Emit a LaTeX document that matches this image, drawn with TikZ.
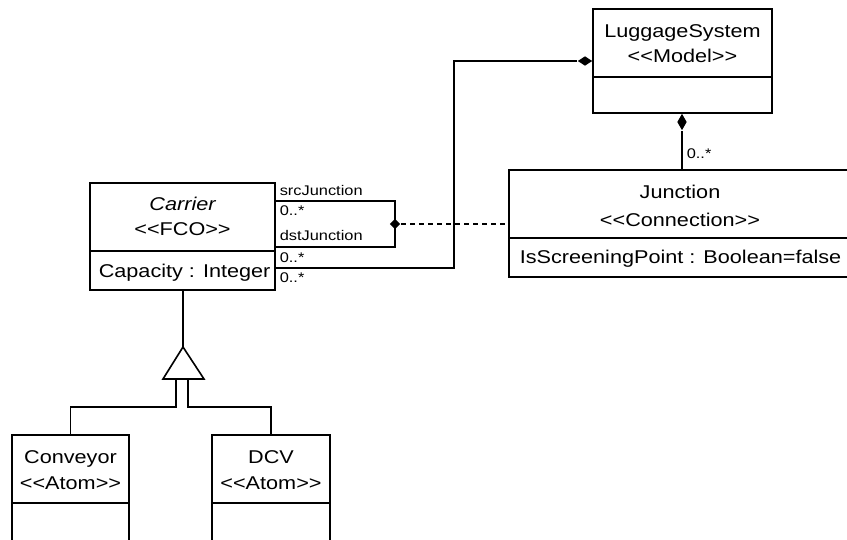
\documentclass[tikz,border=0pt]{standalone}
\usepackage{fontspec}
\setmainfont{Liberation Sans}[FakeStretch=1.17]
\usetikzlibrary{shapes.geometric}
% stereotype brackets, kept apart so they stay two separate glyphs
\newcommand\stereo[1]{<\kern0pt<#1>\kern0pt>}

\begin{document}
\begin{tikzpicture}[x=1pt,y=-1pt,line width=1.6pt,
  box/.style={draw,rectangle,inner sep=0pt,line width=1.6pt},
  txt/.style={font=\fontsize{18.5}{22}\selectfont,inner sep=0pt,anchor=base},
  txtl/.style={txt,anchor=base west},
  lbl/.style={font=\fontsize{14}{16}\selectfont,inner sep=0pt,anchor=base west},
  comp/.style={diamond,fill=black,draw=none,inner sep=0pt}]
\useasboundingbox (0,0) rectangle (847,539);

% class boxes
\node[box,minimum width=179pt,minimum height=104pt] (lug) at (682.5,61) {};
\draw (lug.west |- 0,77) -- (lug.east |- 0,77);
\node[txt] (lugname) at (682.5,37) {LuggageSystem};
\node[txt] (lugst) at (682.5,62) {\stereo{Model}};

\node[box,minimum width=342pt,minimum height=107pt] (junc) at (680,223.5) {};
\draw (junc.west |- 0,238) -- (junc.east |- 0,238);
\node[txt] (juncname) at (680,198) {Junction};
\node[txt] (juncst) at (680,226) {\stereo{Connection}};
\node[txtl] (juncattr) at (519,263) {IsScreeningPoint : Boolean=false};

\node[box,minimum width=185pt,minimum height=107pt] (carrier) at (182.5,236.5) {};
\draw (carrier.west |- 0,251) -- (carrier.east |- 0,251);
\node[txt] (carname) at (182.5,210) {\itshape Carrier};
\node[txt] (carst) at (182.5,235) {\stereo{FCO}};
\node[txtl] (carattr) at (98,277) {Capacity : Integer};

\node[box,minimum width=117pt,minimum height=110pt] (conv) at (70.5,490) {};
\draw (conv.west |- 0,503) -- (conv.east |- 0,503);
\node[txt] (convname) at (70.5,463) {Conveyor};
\node[txt] (convst) at (70.5,489) {\stereo{Atom}};

\node[box,minimum width=118pt,minimum height=110pt] (dcv) at (271,490) {};
\draw (dcv.west |- 0,503) -- (dcv.east |- 0,503);
\node[txt] (dcvname) at (271,463) {DCV};
\node[txt] (dcvst) at (271,489) {\stereo{Atom}};

% composition: LuggageSystem owns Junction
\node[comp,minimum width=10pt,minimum height=17pt] (lugdia) at (682,122) {};
\draw (lugdia.north) -- (lug.south);
\draw (lugdia.south) -- (lugdia.south |- junc.north);
\node[lbl] (lugmult) at (686,158) {0..*};

% composition: LuggageSystem owns Carrier
\node[comp,minimum width=15pt,minimum height=10pt] (cardia) at (585,61) {};
\draw (cardia.east) -- (lug.west |- cardia.east);
\draw (carrier.east |- 0,268) -- (454,268) -- (454,61) -- (cardia.west);

% src / dst association with Junction as connection class
\node[comp,minimum width=11pt,minimum height=11pt] (jdot) at (395,224) {};
\draw (carrier.east |- 0,201) -- (395,201) -- (395,247) -- (carrier.east |- 0,247);
\draw[dashed,line width=1.4pt,dash pattern=on 5pt off 4pt] (jdot) -- (junc.west |- jdot);

\node[lbl] (src) at (279,195) {srcJunction};
\node[lbl] (srcm) at (279,215) {0..*};
\node[lbl] (dst) at (279,240) {dstJunction};
\node[lbl] (dstm) at (279,262) {0..*};
\node[lbl] (ownm) at (279,282) {0..*};

% generalisation: Conveyor and DCV are Carriers
\coordinate (apex) at (183,347);
\draw (carrier.south -| apex) -- (apex);
\draw[line join=miter] (163,379) -- (apex) -- (204,379) -- cycle;
\draw (176,379) -- (176,407) -- (conv.north |- 0,407) -- (conv.north);
\draw (188,379) -- (188,407) -- (dcv.north |- 0,407) -- (dcv.north);
\end{tikzpicture}
\end{document}
